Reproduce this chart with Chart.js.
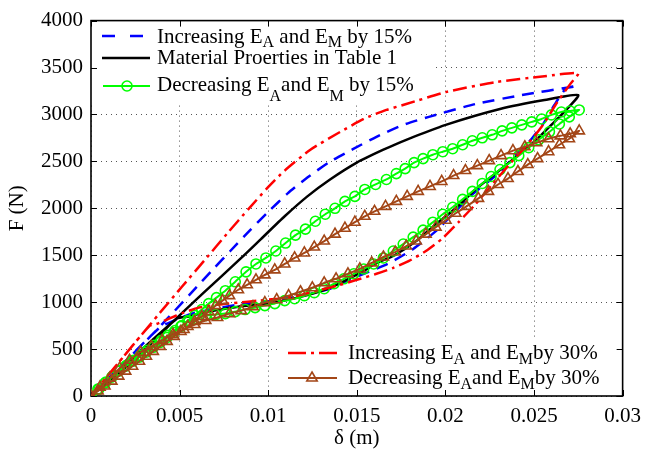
<!DOCTYPE html>
<html>
<head>
<meta charset="utf-8">
<script src="https://cdn.jsdelivr.net/npm/chart.js@4.4.0/dist/chart.umd.min.js"></script>
<style>
  html, body { margin: 0; padding: 0; background: #fff; }
  #wrap { width: 649px; height: 452px; }
</style>
</head>
<body>
<div id="wrap"><canvas id="c" width="649" height="452"></canvas></div>
<script>
// Force–displacement loops (delta in m, force in N), loading then unloading.
const xTickLabels = ['0', '0.005', '0.01', '0.015', '0.02', '0.025', '0.03'];
const yTickLabels = ['0', '500', '1000', '1500', '2000', '2500', '3000', '3500', '4000'];

// Increasing E_A and E_M by 15%
const inc15LoadDelta = [0, 0.00167, 0.00335, 0.00468, 0.00597, 0.00691, 0.00786, 0.00898, 0.00998, 0.0111, 0.01221, 0.01349, 0.01483, 0.01611, 0.01762, 0.01907, 0.02169, 0.02431, 0.02743];
const inc15LoadForce = [0, 317, 635, 899, 1164, 1355, 1545, 1767, 1958, 2159, 2328, 2497, 2635, 2762, 2889, 2974, 3111, 3206, 3302];
const inc15UnloadDelta = [0.02682, 0.02615, 0.02559, 0.02487, 0.02431, 0.02297, 0.02152, 0.02041, 0.01946, 0.01818, 0.01684, 0.01539, 0.01444, 0.01349, 0.01165, 0.00981, 0.00831, 0.00708, 0.00569, 0.00468, 0.00385, 0];
const inc15UnloadForce = [3280, 3101, 2921, 2741, 2635, 2370, 2148, 1937, 1757, 1566, 1418, 1302, 1227, 1143, 1058, 1005, 974, 931, 878, 804, 725, 0];

// Material properties in Table 1
const baseLoadDelta = [0, 0.00262, 0.00429, 0.00636, 0.00848, 0.00959, 0.01093, 0.01221, 0.01349, 0.015, 0.0165, 0.01779, 0.02002, 0.02308, 0.02559, 0.02749];
const baseLoadForce = [0, 413, 730, 1101, 1471, 1672, 1915, 2127, 2307, 2487, 2624, 2730, 2889, 3058, 3153, 3206];
const baseUnloadDelta = [0.02671, 0.02598, 0.0252, 0.02448, 0.02297, 0.02169, 0.02058, 0.01946, 0.01835, 0.01706, 0.01611, 0.01539, 0.01349, 0.01165, 0.00998, 0.00831, 0.00664, 0.00552, 0.00485, 0];
const baseUnloadForce = [3027, 2889, 2741, 2624, 2392, 2201, 2000, 1831, 1651, 1492, 1418, 1333, 1153, 1048, 984, 952, 899, 847, 825, 0];

// Decreasing E_A and E_M by 15%
const dec15LoadDelta = [0, 0.00039, 0.00078, 0.00117, 0.00156, 0.00195, 0.00234, 0.00273, 0.00312, 0.00351, 0.0039, 0.00429, 0.00468, 0.00507, 0.00546, 0.00585, 0.00625, 0.00664, 0.00708, 0.00758, 0.00814, 0.00875, 0.00931, 0.00987, 0.01043, 0.01098, 0.01154, 0.0121, 0.01266, 0.01322, 0.01377, 0.01433, 0.01489, 0.01545, 0.01606, 0.01667, 0.01723, 0.01773, 0.01823, 0.01874, 0.01929, 0.01985, 0.02041, 0.02097, 0.02152, 0.02208, 0.02264, 0.0232, 0.02375, 0.02431, 0.02487, 0.02543, 0.02598, 0.02654, 0.02704, 0.02755];
const dec15LoadForce = [0, 74, 138, 201, 265, 317, 370, 413, 466, 519, 571, 624, 677, 741, 804, 857, 921, 984, 1048, 1122, 1217, 1323, 1407, 1471, 1545, 1630, 1714, 1778, 1862, 1937, 2000, 2074, 2127, 2201, 2254, 2307, 2370, 2423, 2487, 2529, 2571, 2603, 2635, 2677, 2720, 2751, 2783, 2825, 2857, 2889, 2921, 2952, 2995, 3026, 3037, 3048];
const dec15UnloadDelta = [0.02699, 0.02643, 0.02587, 0.02526, 0.0247, 0.02414, 0.02364, 0.02308, 0.02258, 0.02208, 0.02152, 0.02097, 0.02041, 0.01985, 0.01929, 0.01874, 0.01818, 0.01762, 0.01706, 0.0165, 0.01595, 0.01539, 0.01483, 0.01427, 0.01372, 0.01316, 0.0126, 0.01204, 0.01149, 0.01093, 0.01037, 0.00981, 0.00926, 0.0087, 0.00814, 0.00758, 0.00703, 0.00647, 0.00597, 0.00552, 0.00513, 0.00474, 0.00435, 0.00396, 0.00357, 0.00318, 0.00279, 0.0024, 0.00201, 0.00162, 0.00123, 0.00084, 0.00045, 0];
const dec15UnloadForce = [2974, 2899, 2815, 2730, 2646, 2561, 2487, 2413, 2339, 2265, 2180, 2095, 2011, 1937, 1852, 1767, 1693, 1619, 1545, 1471, 1407, 1354, 1302, 1249, 1196, 1143, 1101, 1069, 1037, 1016, 984, 963, 942, 921, 899, 878, 868, 857, 825, 794, 751, 698, 646, 593, 540, 487, 434, 381, 328, 275, 212, 148, 74, 0];

// Increasing E_A and E_M by 30%
const inc30LoadDelta = [0, 0.00273, 0.00385, 0.00513, 0.00647, 0.00775, 0.00887, 0.00998, 0.01093, 0.01238, 0.01388, 0.01539, 0.01667, 0.01779, 0.02002, 0.02281, 0.02559, 0.02749];
const inc30LoadForce = [0, 624, 878, 1164, 1460, 1746, 1989, 2222, 2402, 2624, 2794, 2952, 3048, 3111, 3238, 3344, 3407, 3439];
const inc30UnloadDelta = [0.02704, 0.02632, 0.02543, 0.02448, 0.02375, 0.02264, 0.02169, 0.02074, 0.01985, 0.0189, 0.01795, 0.01706, 0.01611, 0.015, 0.01388, 0.01277, 0.01165, 0.01054, 0.00942, 0.00831, 0.00719, 0.00608, 0.00524, 0.00441, 0.00368, 0.00329, 0.00162, 0];
const inc30UnloadForce = [3323, 3132, 2868, 2646, 2497, 2254, 2042, 1852, 1682, 1545, 1439, 1365, 1302, 1238, 1175, 1122, 1069, 1037, 1016, 995, 974, 942, 889, 825, 766, 745, 370, 0];

// Decreasing E_A and E_M by 30%
const dec30LoadDelta = [0, 0.00039, 0.00078, 0.00117, 0.00156, 0.00195, 0.00234, 0.00273, 0.00312, 0.00351, 0.0039, 0.00429, 0.00468, 0.00507, 0.00546, 0.00585, 0.00625, 0.00664, 0.00703, 0.00742, 0.00781, 0.00831, 0.00881, 0.00931, 0.00981, 0.01037, 0.01093, 0.01149, 0.01204, 0.0126, 0.01316, 0.01377, 0.01433, 0.01489, 0.01545, 0.016, 0.01662, 0.01723, 0.01784, 0.01846, 0.01913, 0.01979, 0.02046, 0.02113, 0.0218, 0.02247, 0.02314, 0.02381, 0.02448, 0.02515, 0.02582, 0.02649, 0.02704, 0.02755];
const dec30LoadForce = [0, 53, 106, 159, 212, 265, 317, 370, 423, 476, 529, 582, 635, 688, 741, 794, 847, 899, 963, 1016, 1069, 1132, 1185, 1238, 1291, 1344, 1407, 1471, 1524, 1587, 1651, 1725, 1788, 1852, 1915, 1968, 2021, 2074, 2127, 2180, 2233, 2286, 2349, 2402, 2455, 2508, 2561, 2614, 2656, 2698, 2741, 2772, 2794, 2825];
const dec30UnloadDelta = [0.02699, 0.02643, 0.02582, 0.0252, 0.02465, 0.02409, 0.02353, 0.02297, 0.02242, 0.02186, 0.02119, 0.02058, 0.02002, 0.01946, 0.0189, 0.01835, 0.01779, 0.01717, 0.0165, 0.01584, 0.01517, 0.0145, 0.01383, 0.01316, 0.01249, 0.01182, 0.01115, 0.01048, 0.00981, 0.00914, 0.00848, 0.00781, 0.00714, 0.00647, 0.00585, 0.00524, 0.00463, 0.00401, 0.0034, 0.00279, 0.00217, 0.00162, 0.00106, 0.0005, 0];
const dec30UnloadForce = [2741, 2677, 2603, 2529, 2466, 2392, 2317, 2254, 2180, 2106, 2021, 1947, 1873, 1799, 1725, 1651, 1598, 1534, 1481, 1418, 1354, 1302, 1249, 1206, 1153, 1111, 1069, 1026, 995, 952, 910, 878, 836, 804, 762, 709, 656, 593, 529, 466, 381, 296, 190, 95, 0];

const SERIF = '"Liberation Serif", "Times New Roman", serif';
const COLORS = { inc15: '#0000ff', base: '#000000', dec15: '#00ff00', inc30: '#ff0000', dec30: '#a34617' };

function loop(ld, lf, ud, uf) {
  const pts = [];
  ld.forEach((d, i) => pts.push({ x: d, y: lf[i] }));
  ud.forEach((d, i) => pts.push({ x: d, y: uf[i] }));
  return pts;
}

const datasets = [
  { label: 'inc30', data: loop(inc30LoadDelta, inc30LoadForce, inc30UnloadDelta, inc30UnloadForce),
    borderColor: COLORS.inc30, borderWidth: 2.5, borderDash: [14, 5, 3, 5], pointRadius: 0, tension: 0.2, order: 2 },
  { label: 'dec30', data: loop(dec30LoadDelta, dec30LoadForce, dec30UnloadDelta, dec30UnloadForce),
    borderColor: COLORS.dec30, borderWidth: 2, pointStyle: 'triangle', pointRadius: 6, pointBorderWidth: 1.6,
    pointBorderColor: COLORS.dec30, pointBackgroundColor: 'rgba(0,0,0,0)', tension: 0.1, order: 1 },
  { label: 'dec15', data: loop(dec15LoadDelta, dec15LoadForce, dec15UnloadDelta, dec15UnloadForce),
    borderColor: COLORS.dec15, borderWidth: 2, pointStyle: 'circle', pointRadius: 5, pointBorderWidth: 1.6,
    pointBorderColor: COLORS.dec15, pointBackgroundColor: 'rgba(0,0,0,0)', tension: 0.1, order: 3 },
  { label: 'base', data: loop(baseLoadDelta, baseLoadForce, baseUnloadDelta, baseUnloadForce),
    borderColor: COLORS.base, borderWidth: 2.5, pointRadius: 0, tension: 0.2, order: 4 },
  { label: 'inc15', data: loop(inc15LoadDelta, inc15LoadForce, inc15UnloadDelta, inc15UnloadForce),
    borderColor: COLORS.inc15, borderWidth: 2.5, borderDash: [12, 8], pointRadius: 0, tension: 0.2, order: 5 }
];
datasets.forEach(ds => { ds.showLine = true; ds.fill = false; ds.pointHoverRadius = ds.pointRadius; });

// Legend boxes and entries (text with subscripts)
const legendBoxes = [
  { x0: 91, y0: 18, x1: 432, y1: 104 },
  { x0: 280, y0: 338, x1: 629, y1: 396 }
];
const legendEntries = [
  { key: 'inc15', sx0: 102, sx1: 144, sy: 36, dash: [13, 15], tx: 157, ty: 43, sub: 4,
    parts: [['Increasing E'], ['A', 1], [' and E'], ['M', 1], [' by 15%']] },
  { key: 'base', sx0: 102, sx1: 150, sy: 58, tx: 157, ty: 64, sub: 4,
    parts: [['Material Proerties in Table 1']] },
  { key: 'dec15', sx0: 103, sx1: 150, sy: 86, marker: 'circle', mx: 127, tx: 157, ty: 91, sub: 10,
    parts: [['Decreasing E'], ['A', 1], ['and E'], ['M', 1], [' by 15%']] },
  { key: 'inc30', sx0: 288, sx1: 337, sy: 353, dash: [18, 5, 3, 5], tx: 348, ty: 359, sub: 5,
    parts: [['Increasing E'], ['A', 1], [' and E'], ['M', 1], ['by 30%']] },
  { key: 'dec30', sx0: 288, sx1: 337, sy: 378, marker: 'triangle', mx: 312, tx: 348, ty: 384, sub: 5,
    parts: [['Decreasing E'], ['A', 1], ['and E'], ['M', 1], ['by 30%']] }
];

const framePlugin = {
  id: 'frame',
  beforeDatasetsDraw(chart) {
    const { ctx, chartArea: a, scales } = chart;
    ctx.save();
    ctx.fillStyle = '#fff';
    legendBoxes.forEach(b => ctx.fillRect(b.x0, b.y0, b.x1 - b.x0, b.y1 - b.y0));
    ctx.strokeStyle = '#000';
    ctx.lineWidth = 1;
    const tl = 6;
    ctx.beginPath();
    scales.x.ticks.forEach(t => {
      const px = Math.round(scales.x.getPixelForValue(t.value)) + 0.5;
      ctx.moveTo(px, a.bottom); ctx.lineTo(px, a.bottom - tl);
      ctx.moveTo(px, a.top); ctx.lineTo(px, a.top + tl);
    });
    scales.y.ticks.forEach(t => {
      const py = Math.round(scales.y.getPixelForValue(t.value)) + 0.5;
      ctx.moveTo(a.left, py); ctx.lineTo(a.left + tl, py);
      ctx.moveTo(a.right, py); ctx.lineTo(a.right - tl, py);
    });
    ctx.stroke();
    ctx.lineWidth = 1.6;
    ctx.strokeRect(a.left, a.top, a.right - a.left, a.bottom - a.top);
    ctx.restore();
  },
  afterDatasetsDraw(chart) {
    const { ctx } = chart;
    ctx.save();
    legendEntries.forEach(e => {
      const ds = chart.data.datasets.find(d => d.label === e.key);
      ctx.strokeStyle = ds.borderColor;
      ctx.lineWidth = ds.borderWidth;
      ctx.setLineDash(e.dash || []);
      ctx.beginPath();
      ctx.moveTo(e.sx0, e.sy); ctx.lineTo(e.sx1, e.sy);
      ctx.stroke();
      ctx.setLineDash([]);
      if (e.marker) {
        ctx.lineWidth = ds.pointBorderWidth;
        ctx.strokeStyle = ds.pointBorderColor;
        ctx.beginPath();
        const r = ds.pointRadius;
        if (e.marker === 'circle') {
          ctx.arc(e.mx, e.sy, r, 0, Math.PI * 2);
        } else {
          ctx.moveTo(e.mx, e.sy - r);
          ctx.lineTo(e.mx + r * 0.866, e.sy + r * 0.5);
          ctx.lineTo(e.mx - r * 0.866, e.sy + r * 0.5);
          ctx.closePath();
        }
        ctx.stroke();
      }
      ctx.fillStyle = '#000';
      ctx.textBaseline = 'alphabetic';
      ctx.textAlign = 'left';
      let cx = e.tx;
      e.parts.forEach(([t, isSub]) => {
        ctx.font = (isSub ? '16px ' : '21px ') + SERIF;
        ctx.fillText(t, cx, e.ty + (isSub ? e.sub : 0));
        cx += ctx.measureText(t).width;
      });
    });
    ctx.restore();
  }
};

const tickFont = { family: SERIF, size: 21 };

new Chart(document.getElementById('c'), {
  type: 'scatter',
  data: { datasets },
  options: {
    responsive: false,
    animation: false,
    devicePixelRatio: 1,
    layout: { padding: { top: 18, right: 20, left: 0, bottom: 0 } },
    plugins: { legend: { display: false }, tooltip: { enabled: false } },
    scales: {
      x: {
        type: 'linear', min: 0, max: 0.03,
        afterFit: s => { s.height = 56; },
        ticks: { stepSize: 0.005, autoSkip: false, maxRotation: 0, color: '#000', font: tickFont, padding: 8,
                 callback: (v, i) => xTickLabels[i] },
        grid: { color: '#555', lineWidth: 1, drawTicks: false },
        border: { display: false, dash: [1, 4] },
        title: { display: true, text: 'δ (m)', color: '#000', font: tickFont, padding: { top: 0, bottom: 1 } }
      },
      y: {
        type: 'linear', min: 0, max: 4000,
        afterFit: s => { s.width = 91; },
        ticks: { stepSize: 500, autoSkip: false, color: '#000', font: tickFont, padding: 8,
                 callback: (v, i) => yTickLabels[i] },
        grid: { color: '#555', lineWidth: 1, drawTicks: false },
        border: { display: false, dash: [1, 4] },
        title: { display: true, text: 'F (N)', color: '#000', font: tickFont, padding: { top: 5, bottom: 0 } }
      }
    }
  },
  plugins: [framePlugin]
});
</script>
</body>
</html>
